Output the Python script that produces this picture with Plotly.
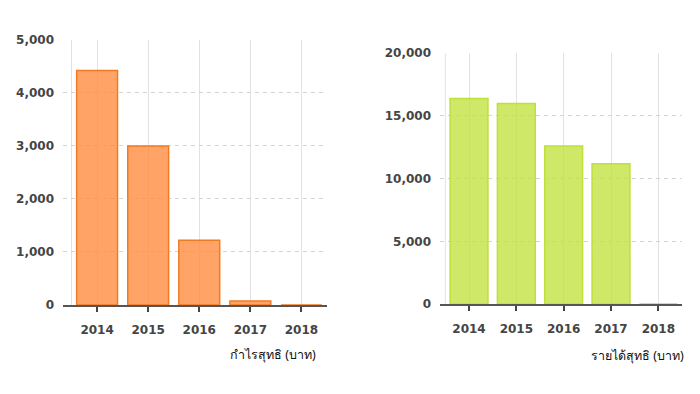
import plotly.graph_objects as go

years = ["2014", "2015", "2016", "2017", "2018"]
profit = [4420, 3000, 1220, 75, 0]
revenue = [16400, 16000, 12600, 11200, 0]
profit_ticks = [0, 1000, 2000, 3000, 4000, 5000]
revenue_ticks = [0, 5000, 10000, 15000, 20000]
profit_title = "กำไรสุทธิ (บาท)"
revenue_title = "รายได้สุทธิ (บาท)"

FONT = "DejaVu Sans"
fig = go.Figure()

fig.add_trace(go.Bar(
    x=years, y=profit, xaxis="x", yaxis="y", width=0.8,
    marker=dict(color="rgba(255,141,64,0.8)", line=dict(color="#F27A22", width=1.5)),
    hoverinfo="x+y", showlegend=False))
fig.add_trace(go.Bar(
    x=years, y=revenue, xaxis="x2", yaxis="y2", width=0.8,
    marker=dict(color="rgba(196,226,66,0.8)", line=dict(color="#BEE03A", width=1.5)),
    hoverinfo="x+y", showlegend=False))

tickfont = dict(family=FONT, size=12, color="#454545", weight="bold")
xcommon = dict(type="category", showgrid=True, gridcolor="#E2E2E2", gridwidth=1,
               showline=True, linecolor="#555555", linewidth=1.5,
               ticks="outside", ticklen=5, tickcolor="#444444", tickwidth=1.5,
               tickfont=tickfont, zeroline=False, fixedrange=True,
               ticklabelstandoff=8)
ycommon = dict(showgrid=True, gridcolor="#D4D4D4", griddash="4px,4px", gridwidth=1,
               showline=False, zeroline=False, ticks="", tickformat=",d",
               tickfont=tickfont, fixedrange=True, ticklabelstandoff=8)

fig.update_layout(
    width=700, height=394, margin=dict(l=0, r=0, t=0, b=0),
    paper_bgcolor="white", plot_bgcolor="white", bargap=0.2,
    xaxis=dict(domain=[63/700, 327/700], anchor="y", range=[-0.667, 4.5], **xcommon),
    yaxis=dict(domain=[85/394, 360/394], anchor="x", range=[0, 5000],
               tickvals=profit_ticks, **ycommon),
    xaxis2=dict(domain=[440/700, 682/700], anchor="y2", range=[-0.613, 4.5], **xcommon),
    yaxis2=dict(domain=[86/394, 346/394], anchor="x2", range=[0, 20000],
                tickvals=revenue_ticks, **ycommon),
    shapes=[
        dict(type="line", xref="x", yref="y domain", x0=-0.5, x1=-0.5, y0=0, y1=1,
             line=dict(color="#E2E2E2", width=1), layer="below"),
        dict(type="line", xref="x2", yref="y2 domain", x0=-0.5, x1=-0.5, y0=0, y1=1,
             line=dict(color="#E2E2E2", width=1), layer="below"),
    ],
    annotations=[
        dict(text=profit_title, xref="paper", yref="paper", x=318/700, y=34/394,
             xanchor="right", yanchor="middle", showarrow=False,
             font=dict(family="Noto Sans", size=12.5, color="#111111")),
        dict(text=revenue_title, xref="paper", yref="paper", x=686/700, y=33/394,
             xanchor="right", yanchor="middle", showarrow=False,
             font=dict(family="Noto Sans", size=12.5, color="#111111")),
    ],
)

fig.write_html("out.html", config={"displayModeBar": False},
               post_script="document.body.style.margin='0';document.body.style.overflow='hidden';")
